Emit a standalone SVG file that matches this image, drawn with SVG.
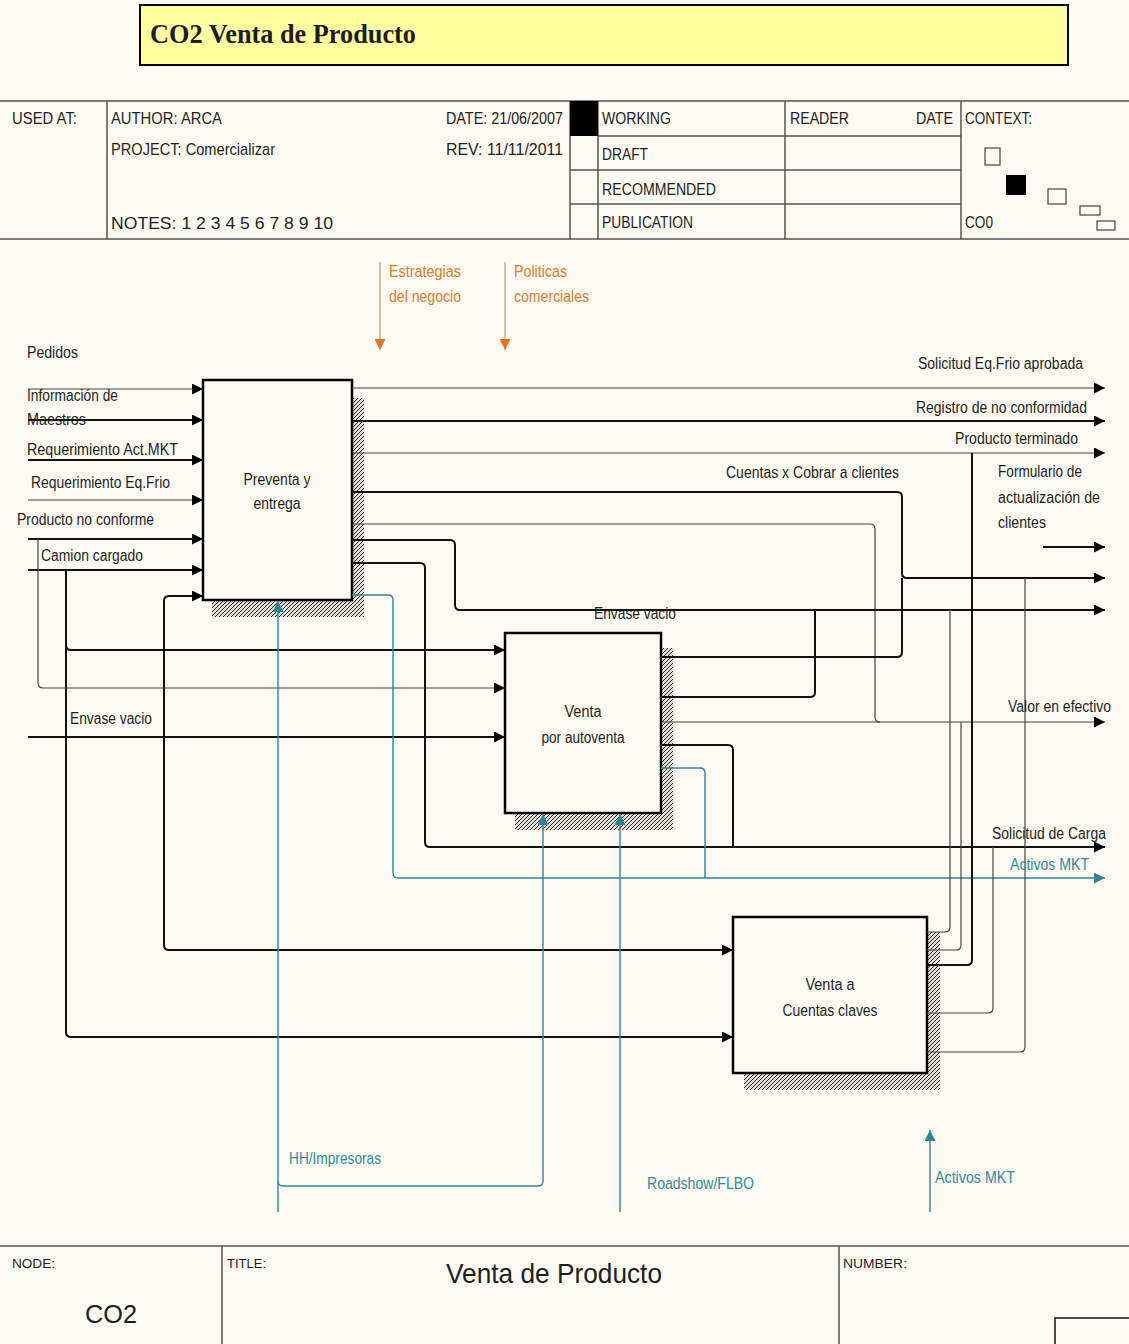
<svg xmlns="http://www.w3.org/2000/svg" width="1129" height="1344" viewBox="0 0 1129 1344">
<defs>
<style>
text{font-family:"Liberation Sans",Arial,sans-serif;font-size:16px;fill:#1e1e1e}
.hd{font-size:17px}
.sm{font-size:13px}
.tl{fill:#2f8c98}
.og{fill:#e07b2e}
.box{fill:#fdfaf1;stroke:#000;stroke-width:2.5}
.hl{stroke:#555;stroke-width:1.5;fill:none}
.c{fill:none;stroke:#111;stroke-width:2}
.t{fill:none;stroke:#444;stroke-width:1.2}
.ct{fill:none;stroke:#2a8796;stroke-width:1.4}
.co{fill:none;stroke:#b99a80;stroke-width:1.2}
.mid{text-anchor:middle}
.sh{fill:url(#hatch)}
</style>
<marker id="ah" markerUnits="userSpaceOnUse" markerWidth="12" markerHeight="11" refX="11" refY="5.5" orient="auto"><path d="M0,0 L11,5.5 L0,11 z" fill="#000"/></marker>
<marker id="at" markerUnits="userSpaceOnUse" markerWidth="12" markerHeight="11" refX="11" refY="5.5" orient="auto"><path d="M0,0 L11,5.5 L0,11 z" fill="#2a8796"/></marker>
<marker id="ao" markerUnits="userSpaceOnUse" markerWidth="12" markerHeight="11" refX="11" refY="5.5" orient="auto"><path d="M0,0 L11,5.5 L0,11 z" fill="#e8731c"/></marker>
<pattern id="hatch" patternUnits="userSpaceOnUse" width="4" height="4"><rect width="4" height="4" fill="#e4e0d6"/><path d="M-1,1 L1,-1 M0,4 L4,0 M3,5 L5,3" stroke="#222" stroke-width="1"/></pattern>
</defs>
<rect width="1129" height="1344" fill="#fdfaf1"/>

<g id="title">
<rect x="140" y="5" width="928" height="60" fill="#ffffa0" stroke="#000" stroke-width="2"/>
<text x="150" y="43" style="font-family:'Liberation Serif','Times New Roman',serif;font-weight:bold;font-size:27px" textLength="266" lengthAdjust="spacingAndGlyphs">CO2 Venta de Producto</text>
</g>

<g id="header">
<path class="hl" d="M0,101 H1129 M0,239 H1129 M107,101 V239 M570,101 V239 M598,101 V239 M785,101 V239 M961,101 V239 M598,136 H961 M570,170 H961 M570,204 H961"/>
<rect x="570" y="101" width="28" height="35" fill="#000"/>
<text class="hd" x="12" y="124" textLength="65" lengthAdjust="spacingAndGlyphs">USED AT:</text>
<text class="hd" x="111" y="124" textLength="111" lengthAdjust="spacingAndGlyphs">AUTHOR:  ARCA</text>
<text class="hd" x="111" y="155" textLength="164" lengthAdjust="spacingAndGlyphs">PROJECT:  Comercializar</text>
<text class="hd" x="111" y="229" textLength="222" lengthAdjust="spacingAndGlyphs">NOTES:  1  2  3  4  5  6  7  8  9  10</text>
<text class="hd" x="446" y="124" textLength="117" lengthAdjust="spacingAndGlyphs">DATE: 21/06/2007</text>
<text class="hd" x="446" y="155" textLength="117" lengthAdjust="spacingAndGlyphs">REV:   11/11/2011</text>
<text class="hd" x="602" y="124" textLength="69" lengthAdjust="spacingAndGlyphs">WORKING</text>
<text class="hd" x="602" y="160" textLength="46" lengthAdjust="spacingAndGlyphs">DRAFT</text>
<text class="hd" x="602" y="195" textLength="114" lengthAdjust="spacingAndGlyphs">RECOMMENDED</text>
<text class="hd" x="602" y="228" textLength="91" lengthAdjust="spacingAndGlyphs">PUBLICATION</text>
<text class="hd" x="790" y="124" textLength="59" lengthAdjust="spacingAndGlyphs">READER</text>
<text class="hd" x="916" y="124" textLength="37" lengthAdjust="spacingAndGlyphs">DATE</text>
<text class="hd" x="965" y="124" textLength="67" lengthAdjust="spacingAndGlyphs">CONTEXT:</text>
<text class="hd" x="965" y="228" textLength="28" lengthAdjust="spacingAndGlyphs">CO0</text>
<rect x="985" y="148" width="15" height="17" fill="none" stroke="#444" stroke-width="1.2"/>
<rect x="1006" y="175" width="20" height="20" fill="#000"/>
<rect x="1048" y="189" width="18" height="15" fill="none" stroke="#444" stroke-width="1.2"/>
<rect x="1080" y="206" width="20" height="9" fill="none" stroke="#444" stroke-width="1.2"/>
<rect x="1097" y="221" width="18" height="9" fill="none" stroke="#444" stroke-width="1.2"/>
</g>

<g id="node-preventa">
<rect class="sh" x="352" y="398" width="12" height="219"/>
<rect class="sh" x="212" y="600" width="152" height="17"/>
<rect class="box" x="203" y="380" width="149" height="220"/>
<text class="mid" x="277" y="485" textLength="67" lengthAdjust="spacingAndGlyphs">Preventa y</text>
<text class="mid" x="277" y="509" textLength="47" lengthAdjust="spacingAndGlyphs">entrega</text>
</g>

<g id="node-autoventa">
<rect class="sh" x="661" y="648" width="12" height="182"/>
<rect class="sh" x="515" y="813" width="158" height="17"/>
<rect class="box" x="505" y="633" width="156" height="180"/>
<text class="mid" x="583" y="717" textLength="37" lengthAdjust="spacingAndGlyphs">Venta</text>
<text class="mid" x="583" y="743" textLength="83" lengthAdjust="spacingAndGlyphs">por autoventa</text>
</g>

<g id="node-cuentas">
<rect class="sh" x="927" y="932" width="13" height="158"/>
<rect class="sh" x="744" y="1073" width="196" height="17"/>
<rect class="box" x="733" y="917" width="194" height="156"/>
<text class="mid" x="830" y="990" textLength="49" lengthAdjust="spacingAndGlyphs">Venta a</text>
<text class="mid" x="830" y="1016" textLength="95" lengthAdjust="spacingAndGlyphs">Cuentas claves</text>
</g>

<g id="connectors">
<path class="t" d="M28,389 H203" marker-end="url(#ah)"/>
<path class="c" d="M28,420 H203" marker-end="url(#ah)"/>
<path class="c" d="M28,460 H203" marker-end="url(#ah)"/>
<path class="t" d="M28,500 H203" marker-end="url(#ah)"/>
<path class="c" d="M28,539 H203" marker-end="url(#ah)"/>
<path class="c" d="M28,570 H203" marker-end="url(#ah)"/>
<path class="c" d="M164,737 V601 q0,-5 5,-5 H203" marker-end="url(#ah)"/>
<path class="c" d="M164,737 V945 q0,5 5,5 H733" marker-end="url(#ah)"/>
<path class="c" d="M66,570 V1032 q0,5 5,5 H733" marker-end="url(#ah)"/>
<path class="c" d="M66,645 q0,5 5,5 H505" marker-end="url(#ah)"/>
<path class="t" d="M38,539 V683 q0,5 5,5 H505" marker-end="url(#ah)"/>
<path class="c" d="M28,737 H505" marker-end="url(#ah)"/>

<path class="t" d="M352,388 H1105" marker-end="url(#ah)"/>
<path class="c" d="M352,421 H1105" marker-end="url(#ah)"/>
<path class="t" d="M352,453 H1105" marker-end="url(#ah)"/>
<path class="c" d="M352,492 H897 q5,0 5,5 V573 q0,5 5,5 H1105" marker-end="url(#ah)"/>
<path class="t" d="M352,524 H870 q5,0 5,5 V717 q0,5 5,5"/>
<path class="c" d="M352,540 H450 q5,0 5,5 V605 q0,5 5,5 H1105" marker-end="url(#ah)"/>
<path class="c" d="M352,563 H420 q5,0 5,5 V842 q0,5 5,5 H1105" marker-end="url(#ah)"/>
<path class="ct" d="M352,595 H388 q5,0 5,5 V873 q0,5 5,5 H1105" marker-end="url(#at)"/>
<path class="c" d="M1043,547 H1105" marker-end="url(#ah)"/>

<path class="c" d="M661,657 H897 q5,0 5,-5 V578"/>
<path class="c" d="M661,697 H810 q5,0 5,-5 V610"/>
<path class="t" d="M661,722 H1105" marker-end="url(#ah)"/>
<path class="c" d="M661,745 H728 q5,0 5,5 V847"/>
<path class="ct" d="M661,768 H700 q5,0 5,5 V878"/>

<path class="t" d="M927,932 H945 q5,0 5,-5 V610"/>
<path class="t" d="M927,950 H956 q5,0 5,-5 V722"/>
<path class="c" d="M927,965 H967 q5,0 5,-5 V453"/>
<path class="t" d="M927,1013 H988 q5,0 5,-5 V847"/>
<path class="t" d="M927,1052 H1020 q5,0 5,-5 V578"/>

<path class="ct" d="M278,1212 V601" marker-end="url(#at)"/>
<path class="ct" d="M278,1181 q0,5 5,5 H538 q5,0 5,-5 V814" marker-end="url(#at)"/>
<path class="ct" d="M620,1212 V814" marker-end="url(#at)"/>
<path class="ct" d="M930,1212 V1130" marker-end="url(#at)"/>

<path class="co" d="M380,262 V350" marker-end="url(#ao)"/>
<path class="co" d="M505,262 V350" marker-end="url(#ao)"/>

<text class="og" x="389" y="277" textLength="72" lengthAdjust="spacingAndGlyphs">Estrategias</text>
<text class="og" x="389" y="302" textLength="72" lengthAdjust="spacingAndGlyphs">del negocio</text>
<text class="og" x="514" y="277" textLength="53" lengthAdjust="spacingAndGlyphs">Politicas</text>
<text class="og" x="514" y="302" textLength="75" lengthAdjust="spacingAndGlyphs">comerciales</text>

<text x="27" y="358" textLength="51" lengthAdjust="spacingAndGlyphs">Pedidos</text>
<text x="27" y="401" textLength="91" lengthAdjust="spacingAndGlyphs">Información de</text>
<text x="27" y="425" textLength="59" lengthAdjust="spacingAndGlyphs">Maestros</text>
<text x="27" y="455" textLength="151" lengthAdjust="spacingAndGlyphs">Requerimiento Act.MKT</text>
<text x="31" y="488" textLength="139" lengthAdjust="spacingAndGlyphs">Requerimiento Eq.Frio</text>
<text x="17" y="525" textLength="137" lengthAdjust="spacingAndGlyphs">Producto no conforme</text>
<text x="41" y="561" textLength="102" lengthAdjust="spacingAndGlyphs">Camion cargado</text>
<text x="70" y="724" textLength="82" lengthAdjust="spacingAndGlyphs">Envase vacio</text>

<text x="918" y="369" textLength="165" lengthAdjust="spacingAndGlyphs">Solicitud Eq.Frio aprobada</text>
<text x="916" y="413" textLength="171" lengthAdjust="spacingAndGlyphs">Registro de no conformidad</text>
<text x="955" y="444" textLength="123" lengthAdjust="spacingAndGlyphs">Producto terminado</text>
<text x="726" y="478" textLength="173" lengthAdjust="spacingAndGlyphs">Cuentas x Cobrar a clientes</text>
<text x="998" y="477" textLength="84" lengthAdjust="spacingAndGlyphs">Formulario de</text>
<text x="998" y="503" textLength="102" lengthAdjust="spacingAndGlyphs">actualización de</text>
<text x="998" y="528" textLength="48" lengthAdjust="spacingAndGlyphs">clientes</text>
<text x="594" y="619" textLength="82" lengthAdjust="spacingAndGlyphs">Envase vacio</text>
<text x="1008" y="712" textLength="103" lengthAdjust="spacingAndGlyphs">Valor en efectivo</text>
<text x="992" y="839" textLength="114" lengthAdjust="spacingAndGlyphs">Solicitud de Carga</text>
<text class="tl" x="1010" y="870" textLength="79" lengthAdjust="spacingAndGlyphs">Activos MKT</text>

<text class="tl" x="289" y="1164" textLength="92" lengthAdjust="spacingAndGlyphs">HH/Impresoras</text>
<text class="tl" x="647" y="1189" textLength="107" lengthAdjust="spacingAndGlyphs">Roadshow/FLBO</text>
<text class="tl" x="935" y="1183" textLength="80" lengthAdjust="spacingAndGlyphs">Activos MKT</text>
</g>

<g id="footer">
<path class="hl" d="M0,1246 H1129 M222,1246 V1344 M839,1246 V1344"/>
<rect x="1055" y="1318" width="80" height="30" fill="none" stroke="#111" stroke-width="1.5"/>
<text class="sm" x="12" y="1268" textLength="43" lengthAdjust="spacingAndGlyphs">NODE:</text>
<text class="sm" x="227" y="1268" textLength="39" lengthAdjust="spacingAndGlyphs">TITLE:</text>
<text class="sm" x="843" y="1268" textLength="64" lengthAdjust="spacingAndGlyphs">NUMBER:</text>
<text x="85" y="1323" style="font-size:26px" textLength="52" lengthAdjust="spacingAndGlyphs">CO2</text>
<text x="446" y="1283" style="font-size:28px" textLength="216" lengthAdjust="spacingAndGlyphs">Venta de Producto</text>
</g>
</svg>
